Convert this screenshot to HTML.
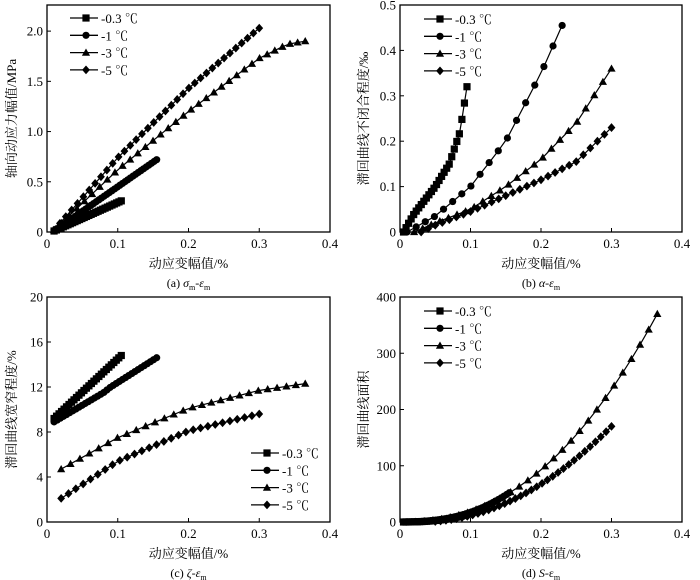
<!DOCTYPE html>
<html><head><meta charset="utf-8"><style>
html,body{margin:0;padding:0;background:#fff;}
svg{display:block;font-family:"Liberation Serif","Noto Serif CJK SC",serif;}
</style></head><body>
<svg id="s" width="700" height="580" viewBox="0 0 700 580" xmlns="http://www.w3.org/2000/svg"></svg>
<script>
const S=document.getElementById('s');let h='';
function interp(a,n){if(typeof a[0]==='function'){const f=a[0],x0=a[1],x1=a[2];const r=[];for(let i=0;i<n;i++){const x=x0+(x1-x0)*i/(n-1);r.push([x,f(x)]);}return r;}
 const x0=a[0][0],x1=a[a.length-1][0];const r=[];for(let i=0;i<n;i++){const x=x0+(x1-x0)*i/(n-1);let j=0;while(j<a.length-2&&x>a[j+1][0])j++;const p=a[j],q=a[j+1];const t=(x-p[0])/(q[0]-p[0]);r.push([x,p[1]+(q[1]-p[1])*t]);}return r;}
function mk(t,x,y){const s=3.6;
 if(t==0)return `<rect x="${x-s}" y="${y-s}" width="${2*s}" height="${2*s}"/>`;
 if(t==1)return `<circle cx="${x}" cy="${y}" r="${s}"/>`;
 if(t==2)return `<polygon points="${x},${y-s-0.5} ${x-s-0.5},${y+s-0.5} ${x+s+0.5},${y+s-0.5}"/>`;
 return `<polygon points="${x},${y-s-0.8} ${x+s+0.3},${y} ${x},${y+s+0.8} ${x-s-0.3},${y}"/>`;}
function panel(o){const {L,R,T,B,ymax,yt,ylab,yl,cap,series,leg}=o;
 const X=v=>L+(R-L)*v/0.4,Y=v=>B-(B-T)*v/ymax;
 h+=`<rect x="${L}" y="${T}" width="${R-L}" height="${B-T}" fill="none" stroke="#000" stroke-width="1.3"/>`;
 [0,0.1,0.2,0.3,0.4].forEach((v,i)=>{const x=X(v);h+=`<line x1="${x}" y1="${B}" x2="${x}" y2="${B-4}" stroke="#000"/>`;h+=`<text x="${x}" y="${B+16}" font-size="13" text-anchor="middle">${['0','0.1','0.2','0.3','0.4'][i]}</text>`;});
 yt.forEach(v=>{const y=Y(v[0]);h+=`<line x1="${L}" y1="${y}" x2="${L+4}" y2="${y}" stroke="#000"/>`;h+=`<text x="${L-4}" y="${y+4.5}" font-size="13" text-anchor="end">${v[1]}</text>`;});
 h+=`<text transform="translate(${yl},${(T+B)/2}) rotate(-90)" font-size="13" text-anchor="middle">${ylab}</text>`;
 h+=`<text x="${(L+R)/2}" y="${B+36}" font-size="13" text-anchor="middle">动应变幅值/%</text>`;
 h+=`<text x="${(L+R)/2}" y="${B+55}" font-size="12" text-anchor="middle">${cap}</text>`;
 series.forEach((s,k)=>{const p=interp(s[0],s[1]);h+=`<polyline fill="none" stroke="#000" stroke-width="1.2" points="${p.map(q=>X(q[0]).toFixed(1)+','+Y(q[1]).toFixed(1)).join(' ')}"/>`;h+='<g fill="#000">'+p.map(q=>mk(k,X(q[0]),Y(q[1]))).join('')+'</g>';});
 const names=['-0.3 ℃','-1 ℃','-3 ℃','-5 ℃'];
 names.forEach((n,k)=>{const y=leg[1]+k*17.3;h+=`<line x1="${leg[0]}" y1="${y}" x2="${leg[0]+28}" y2="${y}" stroke="#000" stroke-width="1.3"/>`;h+='<g fill="#000">'+mk(k,leg[0]+16,y)+'</g>';h+=`<text x="${leg[0]+31}" y="${y+5}" font-size="13">${n}</text>`;});
}
panel({L:47,R:330,T:5,B:232,ymax:2.26,yt:[[0,'0'],[0.5,'0.5'],[1,'1.0'],[1.5,'1.5'],[2,'2.0']],ylab:'轴向动应力幅值/MPa',yl:16,cap:'(a) <tspan font-style="italic">σ</tspan><tspan font-size="8" dy="3">m</tspan><tspan dy="-3">-</tspan><tspan font-style="italic">ε</tspan><tspan font-size="8" dy="3">m</tspan>',leg:[70,18],
 series:[[[[0.01,0.01],[0.105,0.31]],30],[[[0.01,0.01],[0.155,0.72]],40],[[[0.01,0.02],[0.1,0.62],[0.2,1.2],[0.3,1.73],[0.34,1.87],[0.365,1.9]],34],[[[0.01,0.02],[0.1,0.74],[0.2,1.43],[0.3,2.03]],36]]});
panel({L:400,R:682,T:5,B:232,ymax:0.5,yt:[[0,'0'],[0.1,'0.1'],[0.2,'0.2'],[0.3,'0.3'],[0.4,'0.4'],[0.5,'0.5']],ylab:'滞回曲线不闭合程度/‰',yl:368,cap:'(b) <tspan font-style="italic">α</tspan>-<tspan font-style="italic">ε</tspan><tspan font-size="8" dy="3">m</tspan>',leg:[424,19],
 series:[[[[0.005,0],[0.02,0.04],[0.05,0.1],[0.07,0.15],[0.085,0.22],[0.095,0.32]],26],[[[0.01,0],[0.05,0.035],[0.1,0.1],[0.15,0.2],[0.2,0.35],[0.23,0.455]],18],[[[0.02,0],[0.05,0.02],[0.1,0.05],[0.15,0.1],[0.2,0.16],[0.25,0.24],[0.3,0.36]],24],[[[0.03,0],[0.05,0.015],[0.1,0.045],[0.15,0.08],[0.2,0.115],[0.25,0.155],[0.3,0.23]],28]]});
panel({L:47,R:330,T:297,B:522,ymax:20,yt:[[0,'0'],[4,'4'],[8,'8'],[12,'12'],[16,'16'],[20,'20']],ylab:'滞回曲线宽窄程度/%',yl:16,cap:'(c) <tspan font-style="italic">ζ</tspan>-<tspan font-style="italic">ε</tspan><tspan font-size="8" dy="3">m</tspan>',leg:[251,453],
 series:[[[[0.01,9.2],[0.105,14.8]],28],[[[0.01,8.9],[0.08,11.5],[0.09,12],[0.155,14.6]],34],[[[0.02,4.7],[0.1,7.5],[0.2,10.1],[0.3,11.7],[0.365,12.3]],27],[[[0.02,2.1],[0.1,5.4],[0.2,8.1],[0.3,9.6]],28]]});
panel({L:400,R:682,T:297,B:522,ymax:400,yt:[[0,'0'],[100,'100'],[200,'200'],[300,'300'],[400,'400']],ylab:'滞回曲线面积',yl:368,cap:'(d) <tspan font-style="italic">S</tspan>-ε<tspan font-size="8" dy="3">m</tspan>',leg:[424,311],
 series:[[[x=>15*Math.pow(x/0.1,2.5),0.005,0.1],30],[[x=>52*Math.pow(x/0.155,2.5),0.005,0.155],40],[[x=>370*Math.pow(x/0.365,2.3),0.01,0.365],30],[[x=>170*Math.pow((x-0.03)/0.27,2),0.05,0.3],34]]});
S.innerHTML=h;
</script>
</body></html>
